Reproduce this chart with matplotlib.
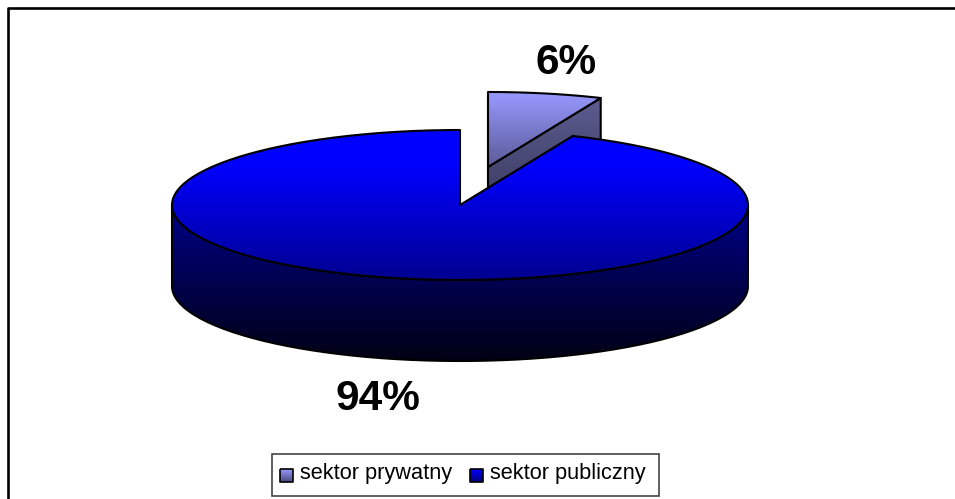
import numpy as np
import matplotlib
matplotlib.use('Agg')
from matplotlib import pyplot as plt
from matplotlib.colors import LinearSegmentedColormap
from matplotlib.patches import PathPatch, Rectangle
from matplotlib.path import Path

labels = ['sektor prywatny', 'sektor publiczny']
shares = [6.4, 93.6]
pct_labels = ['6%', '94%']

W, H = 955, 499
plt.rcParams['font.family'] = ['Liberation Sans', 'DejaVu Sans']

# geometria elipsy w pikselach
cx, cy = 460, 205
rx, ry = 288, 75
depth = 81
dx, dy = 28, -38  # wysuniecie malego wycinka


def ell(t, ox=0, oy=0):
    return cx + ox + rx * np.cos(t), cy + oy - ry * np.sin(t)


def grad(ax, path, y0, y1, c0, c1, z, lw=1.5):
    # gradient pionowy na calej wysokosci, przyciety do ksztaltu
    cmap = LinearSegmentedColormap.from_list('g', [c0, c1])
    rows = np.clip((np.arange(H) + 0.5 - y0) / (y1 - y0), 0, 1).reshape(-1, 1)
    im = ax.imshow(rows, cmap=cmap, extent=(0, W, H, 0), aspect='auto', zorder=z, vmin=0, vmax=1)
    p = PathPatch(path, fc='none', ec='k', lw=lw, zorder=z + 0.1, joinstyle='round')
    ax.add_patch(p)
    im.set_clip_path(p)


def poly(xs, ys):
    return Path(np.column_stack([xs, ys]))


fig = plt.figure(figsize=(W / 100, H / 100), dpi=100)
ax = fig.add_axes([0, 0, 1, 1])

# ramka wykresu
ax.plot([8, 8, W], [H, 8, 8], color='k', lw=1.9, solid_capstyle='butt')

# katy wycinkow liczone od godziny 12 zgodnie z zegarem
small = shares[0] / sum(shares) * 2 * np.pi
t_start = np.pi / 2
t_end = np.pi / 2 - small

# maly wycinek - sciana boczna
x1, y1 = ell(t_end, dx, dy)
ax_x, ax_y = cx + dx, cy + dy
grad(ax, poly([ax_x, x1, x1, ax_x, ax_x], [ax_y, y1, y1 + depth, ax_y + depth, ax_y]),
     y1, ax_y + depth, '#5c5c90', '#2e2e50', 2)

# maly wycinek - gora
t = np.linspace(t_start, t_end, 40)
xs, ys = ell(t, dx, dy)
grad(ax, poly(np.r_[ax_x, xs, ax_x], np.r_[ax_y, ys, ax_y]), cy + dy - ry, ax_y, '#9999ff', '#5a5a99', 3)

# duzy wycinek - bok
t = np.linspace(np.pi, 2 * np.pi, 120)
xs, ys = ell(t)
grad(ax, poly(np.r_[xs, xs[::-1], xs[0]], np.r_[ys, ys[::-1] + depth, ys[0]]),
     cy, cy + ry + depth, '#000088', '#000014', 4)

# duzy wycinek - gora
t = np.linspace(t_end, t_start - 2 * np.pi, 300)
xs, ys = ell(t)
grad(ax, poly(np.r_[cx, xs, cx], np.r_[cy, ys, cy]), cy - ry + 35, cy + ry, '#0000ff', '#000090', 5)

# etykiety procentowe
ax.text(566.5, 63, pct_labels[0], fontsize=30.5, fontweight='bold', ha='center', va='center', zorder=8)
ax.text(377.5, 399.5, pct_labels[1], fontsize=30.5, fontweight='bold', ha='center', va='center', zorder=8)

# legenda
ax.add_patch(Rectangle((272, 454), 387, 42, fc='w', ec='#444444', lw=1.2, zorder=8))
for lab, kx, tx, c0, c1 in zip(labels, [280, 470], [300, 490], ['#9999ff', '#0000ff'], ['#4a4a80', '#000080']):
    path = poly([kx, kx + 13, kx + 13, kx, kx], [469, 469, 482, 482, 469])
    grad(ax, path, 469, 482, c0, c1, 9, lw=1.2)
    ax.text(tx, 474, lab, fontsize=15.7, ha='left', va='center', zorder=10)

ax.set_xlim(0, W)
ax.set_ylim(H, 0)
ax.axis('off')
fig.savefig('out.png', dpi=100)
